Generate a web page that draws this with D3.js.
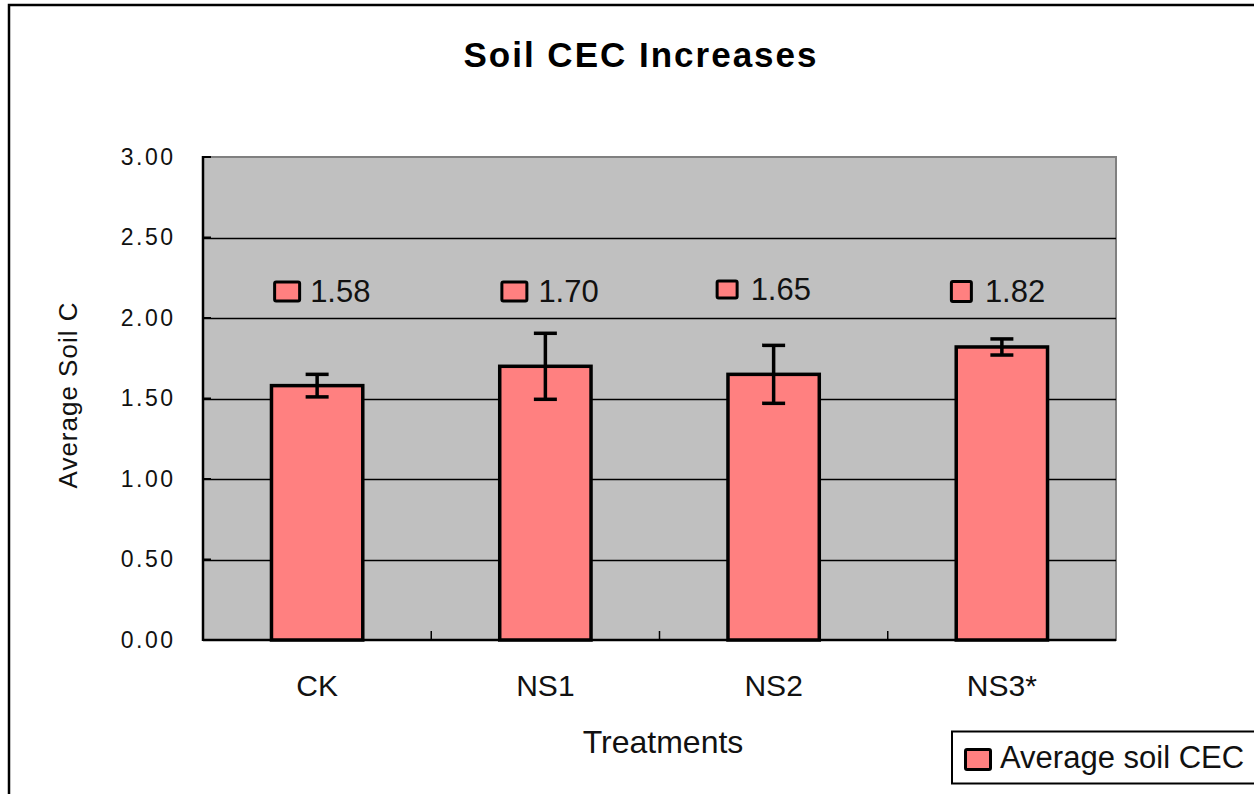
<!DOCTYPE html>
<html><head><meta charset="utf-8">
<script src="https://cdn.jsdelivr.net/npm/d3@7"></script>
<style>body{margin:0;background:#fff}svg{display:block;font-family:"Liberation Sans",Arial,sans-serif}</style>
</head><body><svg id="c" width="1254" height="794"></svg>
<script>
const categories = ["CK","NS1","NS2","NS3*"];
const values = [1.58,1.70,1.65,1.82];
const errors = [0.07,0.205,0.18,0.05];
const labels = ["1.58","1.70","1.65","1.82"];
const yTicks = [0,0.5,1,1.5,2,2.5,3];
const seriesName = "Average soil CEC";

const svg = d3.select("#c");
const L=203,R=1116,T=157,B=640;
const x = d3.scaleBand().domain(categories).range([L,R]).paddingInner(0.6).paddingOuter(0.3);
const xb = d3.scaleBand().domain(categories).range([L,R]);
const y = d3.scaleLinear().domain([0,3]).range([B,T]);
const fill="#FF8080", ink="#111";

// outer frame
svg.append("rect").attr("x",9).attr("y",5).attr("width",1300).attr("height",1300).attr("fill","none").attr("stroke","#000").attr("stroke-width",2.5);

// plot area
svg.append("rect").attr("x",L).attr("y",T).attr("width",R-L).attr("height",B-T).attr("fill","#C0C0C0").attr("stroke","#808080").attr("stroke-width",2);

// gridlines
svg.append("g").selectAll("line").data(yTicks.filter(d=>d>0&&d<3)).join("line")
  .attr("x1",L).attr("x2",R).attr("y1",d=>Math.round(y(d))+0.5).attr("y2",d=>Math.round(y(d))+0.5)
  .attr("stroke","#000").attr("stroke-width",1.3);

// y axis
const ya = svg.append("g").attr("transform",`translate(${L},0)`)
  .call(d3.axisLeft(y).tickValues(yTicks).tickFormat(d3.format(".2f")).tickSize(0).tickPadding(0));
ya.select(".domain").remove();
ya.selectAll(".tick text").attr("x",-27.5).attr("text-anchor","end").attr("font-size",23)
  .attr("fill",ink).attr("letter-spacing","2.5px").attr("font-family","Liberation Sans, Arial, sans-serif");
svg.append("g").selectAll("line").data(yTicks).join("line")
  .attr("x1",L-1).attr("x2",L+8).attr("y1",d=>y(d)).attr("y2",d=>y(d)).attr("stroke","#000").attr("stroke-width",2);
svg.append("line").attr("x1",L).attr("x2",L).attr("y1",T-1).attr("y2",B+1).attr("stroke","#000").attr("stroke-width",2.5);

// x axis
const xa = svg.append("g").attr("transform",`translate(0,${B})`)
  .call(d3.axisBottom(xb).tickSize(0).tickPadding(0));
xa.select(".domain").remove();
xa.selectAll(".tick text").attr("y",56).attr("dy",0).attr("font-size",30).attr("fill",ink)
  .attr("font-family","Liberation Sans, Arial, sans-serif");
svg.append("line").attr("x1",L).attr("x2",R).attr("y1",B).attr("y2",B).attr("stroke","#000").attr("stroke-width",2.5);
svg.append("g").selectAll("line").data(categories.slice(1)).join("line")
  .attr("x1",d=>xb(d)).attr("x2",d=>xb(d)).attr("y1",B).attr("y2",B-9).attr("stroke","#000").attr("stroke-width",1.5);

// bars
const bars = categories.map((c,i)=>({c,v:values[i],e:errors[i],l:labels[i]}));
svg.append("g").selectAll("rect").data(bars).join("rect")
  .attr("x",d=>x(d.c)).attr("width",x.bandwidth()).attr("y",d=>y(d.v)).attr("height",d=>B-y(d.v))
  .attr("fill",fill).attr("stroke","#000").attr("stroke-width",3.5);

// error bars
const eg = svg.append("g").attr("stroke","#000").attr("stroke-width",3.5);
bars.forEach(d=>{
  const cx = x(d.c)+x.bandwidth()/2;
  eg.append("line").attr("x1",cx).attr("x2",cx).attr("y1",y(d.v+d.e)).attr("y2",y(d.v-d.e));
  eg.append("line").attr("x1",cx-11.5).attr("x2",cx+11.5).attr("y1",y(d.v+d.e)).attr("y2",y(d.v+d.e));
  eg.append("line").attr("x1",cx-11.5).attr("x2",cx+11.5).attr("y1",y(d.v-d.e)).attr("y2",y(d.v-d.e));
});

// data labels (layout of each label box, as placed in the original chart)
const labelLayout = [
  {mx:-42.5, tx:-7, w:25, h:19, by:302},
  {mx:-43.5, tx:-7, w:25, h:19, by:302},
  {mx:-56.5, tx:-23, w:20, h:17, by:300},
  {mx:-50.5, tx:-17, w:20, h:20, by:302}
];
const lg = svg.append("g");
bars.forEach((d,i)=>{
  const cx = x(d.c)+x.bandwidth()/2, o = labelLayout[i];
  const mc = o.by-10.5;
  lg.append("rect").attr("x",cx+o.mx).attr("y",mc-o.h/2).attr("width",o.w).attr("height",o.h)
    .attr("fill",fill).attr("stroke","#000").attr("stroke-width",3).attr("rx",1.5);
  lg.append("text").attr("x",cx+o.tx).attr("y",o.by).attr("font-size",31).attr("fill",ink).text(d.l);
});

// title
svg.append("text").attr("x",641).attr("y",67).attr("text-anchor","middle").attr("font-size",35)
  .attr("font-weight","bold").attr("letter-spacing","2px").text("Soil CEC Increases");

// axis titles
svg.append("text").attr("transform","translate(77,395) rotate(-90)").attr("text-anchor","middle")
  .attr("font-size",26).attr("letter-spacing","1px").attr("fill",ink).text("Average Soil C");
svg.append("text").attr("x",663).attr("y",753).attr("text-anchor","middle").attr("font-size",32).attr("fill",ink).text("Treatments");

// legend
svg.append("rect").attr("x",952).attr("y",731.5).attr("width",400).attr("height",52).attr("fill","#fff").attr("stroke","#000").attr("stroke-width",2);
svg.append("rect").attr("x",965.5).attr("y",749.5).attr("width",25).attr("height",20).attr("fill",fill).attr("stroke","#000").attr("stroke-width",3).attr("rx",1.5);
svg.append("text").attr("x",1000).attr("y",768).attr("font-size",31).attr("fill",ink).text(seriesName);
</script></body></html>
